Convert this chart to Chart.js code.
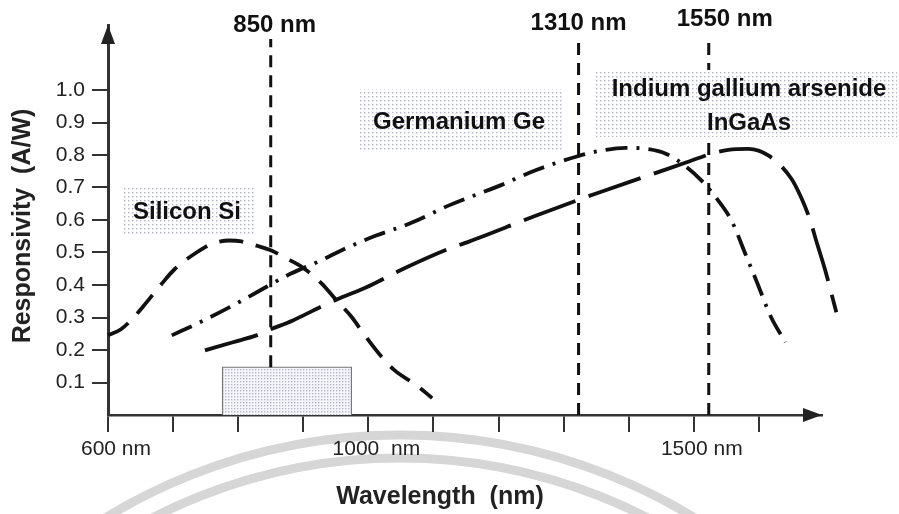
<!DOCTYPE html>
<html lang="en">
<head>
<meta charset="UTF-8">
<title>Responsivity vs wavelength</title>
<script src="https://cdn.jsdelivr.net/npm/chart.js"></script>
<style>
  html, body { margin: 0; padding: 0; background: #fff; }
</style>
</head>
<body>
<canvas id="chart" width="899" height="514"></canvas>
<script>
// values: wavelength in nm, responsivity in A/W
const siliconNm = [600, 620, 637, 654, 683, 703, 736, 761, 787, 805, 830, 851, 871, 899, 928, 951, 975, 991, 1020, 1040, 1075, 1098];
const siliconAW = [0.245, 0.264, 0.295, 0.334, 0.405, 0.45, 0.50, 0.528, 0.537, 0.534, 0.52, 0.506, 0.485, 0.454, 0.405, 0.353, 0.30, 0.255, 0.18, 0.138, 0.09, 0.052];

const germaniumNm = [698, 741, 792, 828, 882, 920, 971, 1012, 1067, 1124, 1201, 1257, 1323, 1354, 1395, 1426, 1457, 1489, 1512, 1533, 1558, 1579, 1596, 1619, 1641];
const germaniumAW = [0.245, 0.285, 0.337, 0.377, 0.436, 0.469, 0.518, 0.552, 0.592, 0.645, 0.705, 0.753, 0.797, 0.812, 0.822, 0.819, 0.804, 0.763, 0.721, 0.672, 0.598, 0.497, 0.414, 0.30, 0.224];

const ingaasNm = [749, 792, 828, 848, 884, 925, 956, 997, 1058, 1124, 1147, 1257, 1320, 1349, 1461, 1487, 1527, 1553, 1584, 1615, 1650, 1665, 1679, 1688, 1702, 1719];
const ingaasAW = [0.199, 0.224, 0.245, 0.262, 0.291, 0.331, 0.359, 0.393, 0.454, 0.512, 0.528, 0.613, 0.66, 0.681, 0.758, 0.776, 0.804, 0.816, 0.819, 0.798, 0.727, 0.669, 0.598, 0.537, 0.445, 0.316];

// vertical marker lines (drawn where the picture puts them)
const markerNm = [850, 1323, 1523];
const markerFrom = [0.147, 0, 0];
const markerTo = [1.157, 1.157, 1.157];
const markerLabels = ['850 nm', '1310 nm', '1550 nm'];

// shaded band under the 850 nm line
const bandNm = [776, 776, 974, 974];
const bandAW = [0, 0.147, 0.147, 0];

const xTicks = [600, 700, 800, 900, 1000, 1100, 1200, 1300, 1400, 1500, 1600];
const xTickLabels = { 600: '600 nm', 1000: '1000  nm', 1500: '1500 nm' };
const yTicks = [0.1, 0.2, 0.3, 0.4, 0.5, 0.6, 0.7, 0.8, 0.9, 1.0];

const FONT = '"Liberation Sans", Arial, sans-serif';
const INK = '#111';

const canvas = document.getElementById('chart');
const ctx = canvas.getContext('2d');

function dots(bg, dot, step) {
    const c = document.createElement('canvas');
    c.width = step;
    c.height = step;
    const g = c.getContext('2d');
    g.fillStyle = bg;
    g.fillRect(0, 0, step, step);
    g.fillStyle = dot;
    g.fillRect(0, 0, 1.4, 1.4);
    return ctx.createPattern(c, 'repeat');
}

const boxPattern = dots('#ffffff', '#b2b2c8', 4);
const bandPattern = dots('#f6f6fa', '#b8b8cc', 3);

function pts(xs, ys) {
    return xs.map((x, i) => ({ x: x, y: ys[i] }));
}

function curve(xs, ys, dash) {
    return {
        data: pts(xs, ys),
        borderColor: INK,
        borderWidth: 3.8,
        borderDash: dash,
        borderCapStyle: 'butt',
        cubicInterpolationMode: 'monotone',
        pointRadius: 0,
        fill: false,
        clip: false
    };
}

const datasets = [
    curve(siliconNm, siliconAW, [24, 13]),
    curve(germaniumNm, germaniumAW, [22, 9, 3, 9]),
    curve(ingaasNm, ingaasAW, [55, 14])
];

markerNm.forEach((x, i) => {
    datasets.push({
        data: [{ x: x, y: markerFrom[i] }, { x: x, y: markerTo[i] }],
        borderColor: INK,
        borderWidth: 3,
        borderDash: [12, 8],
        pointRadius: 0,
        fill: false,
        clip: false
    });
});

// last in the list, so it is drawn first (underneath)
datasets.push({
    data: pts(bandNm, bandAW),
    borderColor: '#777',
    borderWidth: 1.2,
    backgroundColor: bandPattern,
    pointRadius: 0,
    tension: 0,
    fill: 'origin'
});

const decorations = {
    id: 'decorations',
    beforeDraw(chart) {
        const c = chart.ctx;
        // faint watermark arcs of the scanned page
        c.save();
        c.strokeStyle = '#d6d6d6';
        c.lineWidth = 9;
        [565, 542].forEach(r => {
            c.beginPath();
            c.arc(400, 1000, r, Math.PI, 2 * Math.PI);
            c.stroke();
        });
        c.restore();
    },
    afterDatasetsDraw(chart) {
        const c = chart.ctx;
        const a = chart.chartArea;
        c.save();

        // dotted label boxes
        const boxes = [
            { x: 124, y: 188, w: 131, h: 47, lines: ['Silicon Si'], tx: 133, ty: [212], align: 'left' },
            { x: 360, y: 89, w: 202, h: 63, lines: ['Germanium Ge'], tx: 373, ty: [122], align: 'left' },
            { x: 595, y: 70, w: 302, h: 67, lines: ['Indium gallium arsenide', 'InGaAs'], tx: 749, ty: [89, 123], align: 'center' }
        ];
        boxes.forEach(b => {
            c.fillStyle = boxPattern;
            c.fillRect(b.x, b.y, b.w, b.h);
            c.fillStyle = INK;
            c.font = 'bold 24px ' + FONT;
            c.textAlign = b.align;
            c.textBaseline = 'middle';
            b.lines.forEach((t, i) => c.fillText(t, b.tx, b.ty[i]));
        });

        // marker labels
        const xs = chart.scales.x;
        const labelShift = [4, 0, 16];
        const labelY = [25, 23, 19];
        c.font = 'bold 24px ' + FONT;
        c.textAlign = 'center';
        markerNm.forEach((x, i) => {
            c.fillText(markerLabels[i], xs.getPixelForValue(x) + labelShift[i], labelY[i]);
        });

        // axis arrows
        c.fillStyle = '#222';
        c.beginPath();
        c.moveTo(a.left, a.top);
        c.lineTo(a.left - 7, a.top + 19);
        c.lineTo(a.left + 7, a.top + 19);
        c.closePath();
        c.fill();
        c.beginPath();
        c.moveTo(a.right, a.bottom);
        c.lineTo(a.right - 19, a.bottom - 7);
        c.lineTo(a.right - 19, a.bottom + 7);
        c.closePath();
        c.fill();

        // axis titles
        c.fillStyle = '#222';
        c.font = 'bold 25px ' + FONT;
        c.textAlign = 'center';
        c.textBaseline = 'middle';
        c.fillText('Wavelength  (nm)', 440, 497);
        c.translate(23, 226);
        c.rotate(-Math.PI / 2);
        c.fillText('Responsivity  (A/W)', 0, 0);
        c.restore();
    }
};

new Chart(canvas, {
    type: 'line',
    data: { datasets: datasets },
    plugins: [decorations],
    options: {
        responsive: false,
        animation: false,
        layout: { padding: { top: 25, right: 77, left: 0, bottom: 0 } },
        plugins: {
            legend: { display: false },
            tooltip: { enabled: false }
        },
        scales: {
            x: {
                type: 'linear',
                min: 600,
                bounds: 'data',
                // max set here (not as an option) so the InGaAs tail past the arrow is still drawn
                afterDataLimits: s => { s.max = 1697; },
                afterBuildTicks: s => { s.ticks = xTicks.map(v => ({ value: v })); },
                afterFit: s => { s.height = 99; },
                ticks: {
                    autoSkip: false,
                    maxRotation: 0,
                    padding: 5,
                    labelOffset: 8,
                    color: '#222',
                    font: { family: FONT, size: 21 },
                    callback: v => xTickLabels[v] || ''
                },
                grid: { drawOnChartArea: false, tickLength: 17, color: '#333', lineWidth: 2 },
                border: { color: '#333', width: 2.5 }
            },
            y: {
                min: 0,
                max: 1.2,
                afterBuildTicks: s => { s.ticks = yTicks.map(v => ({ value: v })); },
                afterFit: s => { s.width = 108; },
                ticks: {
                    padding: 7,
                    color: '#222',
                    font: { family: FONT, size: 21 },
                    callback: v => v.toFixed(1)
                },
                grid: { drawOnChartArea: false, tickLength: 16, color: '#333', lineWidth: 2 },
                border: { color: '#333', width: 3 }
            }
        }
    }
});
</script>
</body>
</html>
